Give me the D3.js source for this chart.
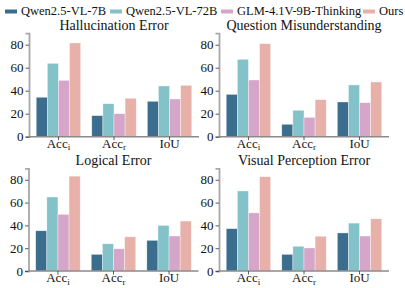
<!DOCTYPE html>
<html><head><meta charset="utf-8">
<script src="https://cdn.jsdelivr.net/npm/d3@7"></script>
<style>body{margin:0;background:#fff}svg{display:block}text{font-family:"Liberation Serif","Times New Roman",serif;fill:#111}</style>
</head><body><svg id="c" width="405" height="288"></svg>
<script>
const models = ["Qwen2.5-VL-7B","Qwen2.5-VL-72B","GLM-4.1V-9B-Thinking","Ours"];
const colors = ["#3b6e8e","#84c2ca","#d5a6c9","#e7b0a8"];
const metrics = [["Acc","i"],["Acc","r"],["IoU",""]];
const panelTitles = ["Hallucination Error","Question Misunderstanding","Logical Error","Visual Perception Error"];
const yTicks = [0,20,40,60,80];
// values[panel][model][metric]
const hallucination = [[34.3,18.3,30.8],[63.8,28.7,44.1],[49.0,20.0,32.8],[81.5,33.4,44.7]];
const misunderstanding = [[36.8,10.8,30.2],[67.3,23.0,45.0],[49.3,16.8,29.6],[80.9,32.2,47.6]];
const logical = [[35.3,14.6,26.9],[64.9,23.9,40.0],[49.7,19.5,30.7],[83.2,30.0,43.8]];
const visual = [[37.1,14.6,33.4],[70.2,21.7,42.0],[51.0,20.2,30.7],[82.7,30.5,45.8]];
const panelData = [hallucination, misunderstanding, logical, visual];

const FONT = "Liberation Serif";
const svg = d3.select("#c");
const panels = [
  {x0:29, x1:199, yb:136.7, yt:33.2, ty:30},
  {x0:219, x1:389, yb:136.7, yt:33.2, ty:30},
  {x0:28.5, x1:198.5, yb:271, yt:168.4, ty:165},
  {x0:219, x1:389, yb:271, yt:168.4, ty:165}
];
const catKeys = metrics.map(m=>m.join(""));
panels.forEach((p,pi)=>{
  const g = svg.append("g");
  const x = d3.scaleBand().domain(catKeys).range([p.x0,p.x1]).paddingInner(0.2).paddingOuter(0.13);
  const xs = d3.scaleBand().domain(models).range([0,x.bandwidth()]);
  const y = d3.scaleLinear().domain([0,90]).range([p.yb,p.yt]);
  const data = panelData[pi];
  models.forEach((m,mi)=>{
    g.selectAll(null).data(catKeys).enter().append("rect")
      .attr("x",(c)=>x(c)+xs(m))
      .attr("width",xs.bandwidth())
      .attr("y",(c,ci)=>y(data[mi][ci]))
      .attr("height",(c,ci)=>y(0)-y(data[mi][ci]))
      .attr("fill",colors[mi])
      .attr("stroke","rgba(255,255,255,0.6)").attr("stroke-width",0.6);
  });
  // y axis
  const ya = g.append("g").attr("transform",`translate(${p.x0},0)`)
    .call(d3.axisLeft(y).tickValues(yTicks).tickSize(3.5).tickPadding(2))
    .attr("font-family",FONT);
  ya.select(".domain").attr("stroke","#a8a8a8").attr("stroke-width",1.8);
  ya.selectAll(".tick line").attr("stroke","#333").attr("stroke-width",0.8);
  ya.selectAll(".tick text").style("font-size","13px").style("font-family",FONT).attr("fill","#111");
  // x axis
  const xa = g.append("g").attr("transform",`translate(0,${p.yb})`)
    .call(d3.axisBottom(x).tickSize(3.5).tickPadding(1).tickFormat(""))
    .attr("font-family",FONT);
  xa.select(".domain").attr("stroke","#8a8a8a").attr("stroke-width",1.5).attr("d",`M${p.x0},0H${p.x1}`);
  xa.selectAll(".tick line").attr("stroke","#333").attr("stroke-width",0.8);
  xa.selectAll(".tick").each(function(c,ci){
    const t = d3.select(this).append("text").attr("y",11)
      .attr("text-anchor","middle").style("font-size","13px").style("font-family",FONT).attr("fill","#111");
    t.append("tspan").text(metrics[ci][0]);
    if(metrics[ci][1]) t.append("tspan").attr("dy","2.5").style("font-size","9px").text(metrics[ci][1]);
  });
  svg.append("text").attr("x",(p.x0+p.x1)/2).attr("y",p.ty).attr("text-anchor","middle")
    .style("font-size","14px").style("font-family",FONT).text(panelTitles[pi]);
});
// legend
const legX = [5,110,221,363];
models.forEach((m,i)=>{
  svg.append("rect").attr("x",legX[i]).attr("y",9.5).attr("width",12).attr("height",4).attr("fill",colors[i]);
  svg.append("text").attr("x",legX[i]+16).attr("y",14.5).style("font-size","12.5px").style("font-family",FONT).text(m);
});
</script></body></html>
